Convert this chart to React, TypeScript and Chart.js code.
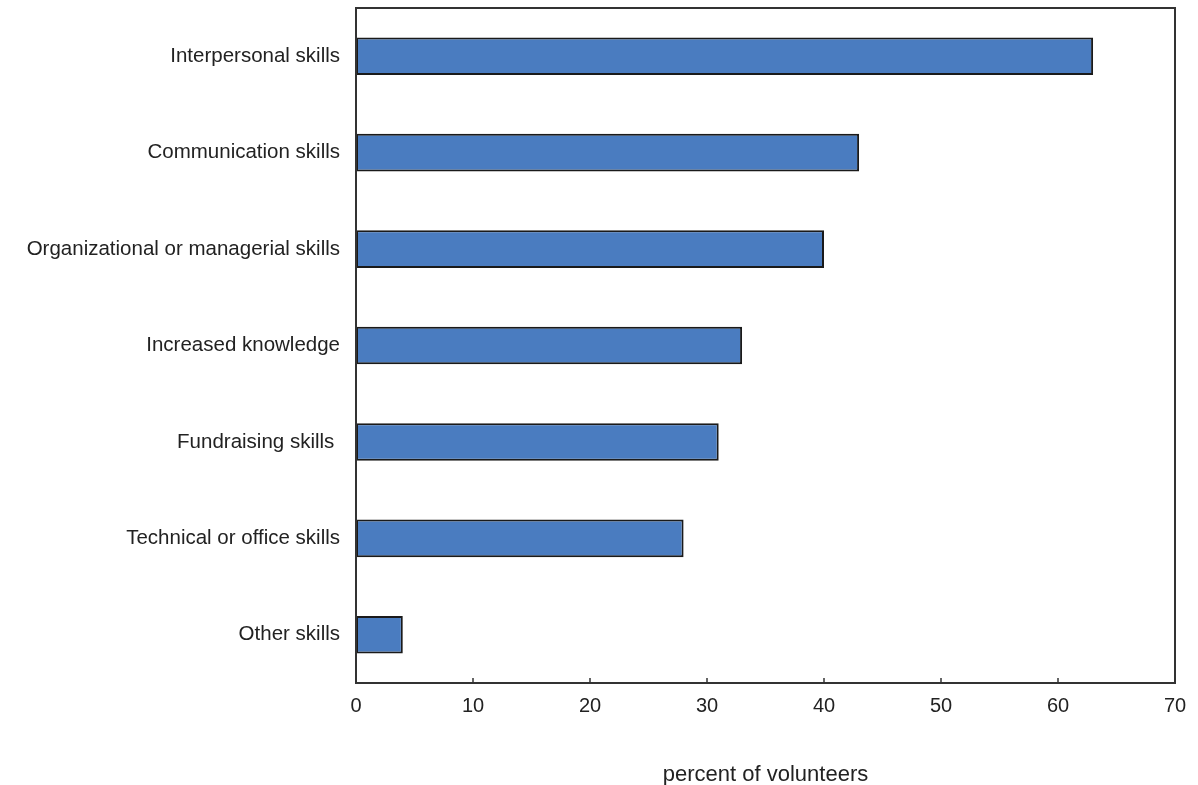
import React, { useEffect, useRef } from "react";
import { Chart, registerables } from "chart.js";

Chart.register(...registerables);

const categories = [
  "Interpersonal skills",
  "Communication skills",
  "Organizational or managerial skills",
  "Increased knowledge",
  "Fundraising skills ",
  "Technical or office skills",
  "Other skills",
];
const values = [63, 43, 40, 33, 31, 28, 4];
const xTicks = [0, 10, 20, 30, 40, 50, 60, 70];
const xTitle = "percent of volunteers";

const FONT = "'Liberation Sans', Arial, sans-serif";

const frame = {
  id: "frame",
  afterDraw(chart: any) {
    const { ctx, chartArea } = chart;
    const xs = chart.scales.x;
    ctx.save();
    ctx.strokeStyle = "#333";
    ctx.lineWidth = 2;
    ctx.strokeRect(chartArea.left, chartArea.top, chartArea.right - chartArea.left, chartArea.bottom - chartArea.top);
    ctx.lineWidth = 1.5;
    for (const v of xTicks) {
      const px = xs.getPixelForValue(v);
      ctx.beginPath();
      ctx.moveTo(px, chartArea.bottom);
      ctx.lineTo(px, chartArea.bottom - 5);
      ctx.stroke();
    }
    ctx.restore();
  },
};

export default function App() {
  const ref = useRef<HTMLCanvasElement>(null);
  useEffect(() => {
    document.body.style.margin = "0";
    const chart = new Chart(ref.current!, {
      type: "bar",
      data: {
        labels: categories,
        datasets: [
          {
            data: values,
            backgroundColor: "#4a7cc0",
            borderColor: "#1a1a1a",
            borderWidth: 2,
            borderSkipped: false,
            barPercentage: 0.39,
            categoryPercentage: 1,
          },
        ],
      },
      options: {
        indexAxis: "y",
        animation: false,
        responsive: false,
        maintainAspectRatio: false,
        layout: { padding: { left: 0, right: 23, top: 8, bottom: 0 } },
        plugins: { legend: { display: false }, tooltip: { enabled: false } },
        scales: {
          x: {
            min: 0,
            max: 70,
            afterBuildTicks: (s: any) => {
              s.ticks = xTicks.map((v) => ({ value: v }));
            },
            afterFit: (s: any) => {
              s.height = 102;
              s.paddingLeft = 0;
              s.paddingRight = 0;
            },
            grid: { display: false, drawTicks: false },
            border: { display: false },
            ticks: {
              padding: 11,
              color: "#222",
              font: { family: FONT, size: 20 },
              maxRotation: 0,
            },
            title: {
              display: true,
              text: xTitle,
              color: "#222",
              font: { family: FONT, size: 22 },
              padding: { top: 0, bottom: -3 },
            },
          },
          y: {
            afterFit: (s: any) => {
              s.width = 356;
              s.paddingTop = 0;
              s.paddingBottom = 0;
            },
            grid: { display: false, drawTicks: false },
            border: { display: false },
            ticks: {
              padding: 16,
              color: "#222",
              font: { family: FONT, size: 20.5 },
            },
          },
        },
      },
      plugins: [frame],
    });
    return () => chart.destroy();
  }, []);
  return (
    <div style={{ width: 1198, height: 785 }}>
      <canvas ref={ref} width={1198} height={785} style={{ width: 1198, height: 785 }} />
    </div>
  );
}
